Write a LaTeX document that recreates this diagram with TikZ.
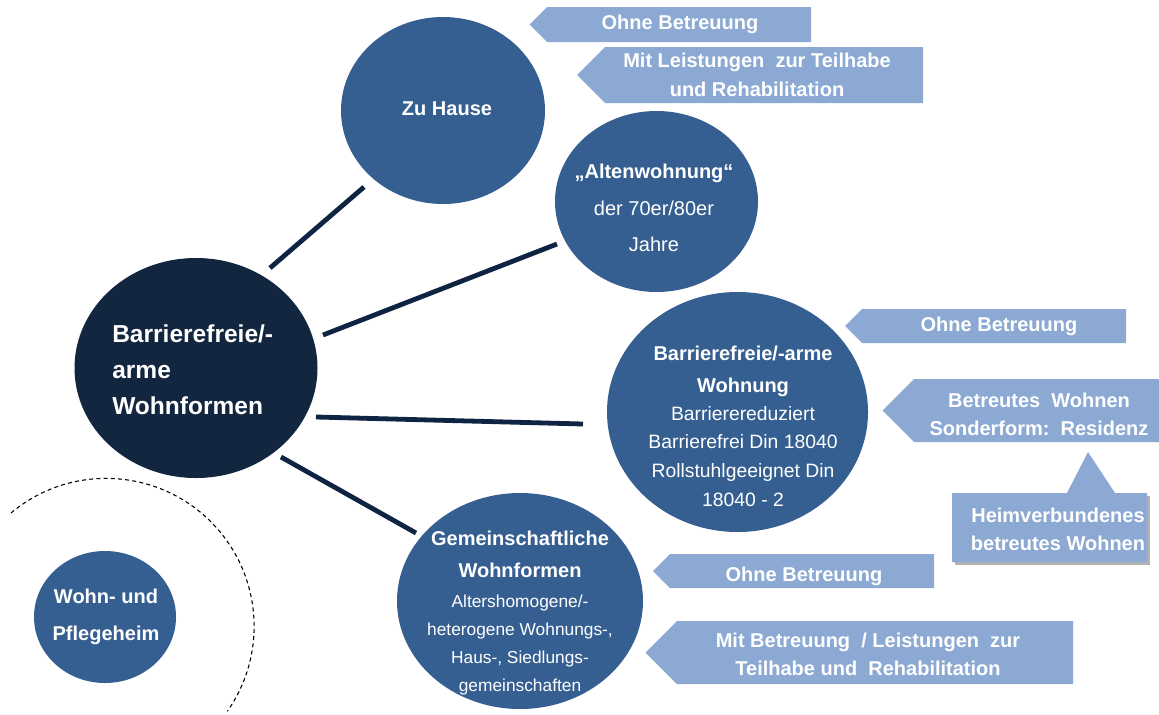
\documentclass[tikz,border=0pt]{standalone}
\usepackage{fontspec}
\setmainfont{Liberation Sans}
\usetikzlibrary{shapes.geometric}
\definecolor{navy}{HTML}{13263F}
\definecolor{midblue}{HTML}{365F91}
\definecolor{linecol}{HTML}{0F2342}
\definecolor{callcol}{HTML}{8BA9D2}
\begin{document}
\begin{tikzpicture}[x=0.75pt,y=-0.75pt,
  ell/.style={ellipse, inner sep=0pt, draw=none},
  conn/.style={draw=linecol, line width=3.6pt},
  arcline/.style={draw=black, line width=0.8pt, dash pattern=on 3pt off 2.4pt},
  callout/.style={fill=callcol},
  ctext/.style={text=white, font=\bfseries\fontsize{15}{21.5}\selectfont, align=center, inner sep=0pt},
  ntext/.style={text=white, align=center, inner sep=0pt}]
\fill[white] (0,0) rectangle (1159,714);
\useasboundingbox (0,0) rectangle (1159,714);

% dashed arc
\coordinate (arcstart) at (11,513);
\draw[arcline] (arcstart) arc[start angle=230, end angle=395, radius=148];

% circles
\node[ell, fill=navy, minimum width=243*0.75pt, minimum height=220*0.75pt] (main) at (196,368) {};
\node[ell, fill=midblue, minimum width=204*0.75pt, minimum height=187*0.75pt] (zu) at (443,110.5) {};
\node[ell, fill=midblue, minimum width=203*0.75pt, minimum height=181*0.75pt] (alt) at (656.5,201.5) {};
\node[ell, fill=midblue, minimum width=261*0.75pt, minimum height=240*0.75pt] (bfw) at (737.5,412) {};
\node[ell, fill=midblue, minimum width=246*0.75pt, minimum height=216*0.75pt] (gem) at (520,601) {};
\node[ell, fill=midblue, minimum width=142*0.75pt, minimum height=132*0.75pt] (wp) at (105,617) {};

% connectors
\coordinate (c1a) at (270,268); \coordinate (c1b) at (364,187);
\coordinate (c2a) at (323,335); \coordinate (c2b) at (557,244);
\coordinate (c3a) at (316,417); \coordinate (c3b) at (583,424);
\coordinate (c4a) at (281,457); \coordinate (c4b) at (416,533);
\draw[conn] (c1a) -- (c1b);
\draw[conn] (c2a) -- (c2b);
\draw[conn] (c3a) -- (c3b);
\draw[conn] (c4a) -- (c4b);

% circle texts
\node[ntext, align=left, anchor=west, font=\bfseries\fontsize{18.4}{27}\selectfont] (maintxt) at (112,370)
  {Barrierefreie/-\\arme\\Wohnformen};
\node[ntext, font=\bfseries\fontsize{15}{20}\selectfont] (zutxt) at (447,109) {Zu Hause};
\node[ntext, font=\fontsize{15}{27.5}\selectfont] (alttxt) at (654,208)
  {{\bfseries „Altenwohnung“}\\der 70er/80er\\Jahre};
\node[ntext, font=\fontsize{14.5}{21.5}\selectfont] (bfwtxt) at (743,426)
  {{\bfseries\fontsize{15}{21.5}\selectfont Barrierefreie/-arme}\\[3pt]
   {\bfseries\fontsize{15}{21.5}\selectfont Wohnung}\\[-1pt]
   Barrierereduziert\\Barrierefrei Din 18040\\Rollstuhlgeeignet Din\\18040 - 2};
\node[ntext, font=\fontsize{13}{21}\selectfont] (gemtxt) at (520,613)
  {{\bfseries\fontsize{15}{21}\selectfont Gemeinschaftliche}\\[3pt]
   {\bfseries\fontsize{15}{21}\selectfont Wohnformen}\\[2pt]
   Altershomogene/-\\heterogene Wohnungs-,\\Haus-, Siedlungs-\\gemeinschaften};
\node[ntext, font=\bfseries\fontsize{15}{27.5}\selectfont] (wptxt) at (106,617) {Wohn- und\\Pflegeheim};

% callouts (left pointing)
\fill[callout] (547,7) -- (811,7) -- (811,42) -- (547,42) -- (529.5,24.5) -- cycle;
\fill[callout] (605,47) -- (923,47) -- (923,103) -- (605,103) -- (577,75) -- cycle;
\fill[callout] (862,309) -- (1126,309) -- (1126,343) -- (862,343) -- (845,326) -- cycle;
\fill[callout] (914,379) -- (1159,379) -- (1159,442) -- (914,442) -- (882.5,410.5) -- cycle;
\fill[callout] (670,554) -- (934,554) -- (934,588) -- (670,588) -- (653,571) -- cycle;
\fill[callout] (677,621) -- (1073,621) -- (1073,684) -- (677,684) -- (645.5,652.5) -- cycle;
% upward callout with shadow
\fill[black, opacity=0.3] (955,496) rectangle (1150,565);
\fill[callout] (952,493) -- (1067,493) -- (1088,452) -- (1115,493) -- (1147,493) -- (1147,562) -- (952,562) -- cycle;

% callout texts
\node[ctext] (t1) at (680,24.5) {Ohne Betreuung};
\node[ctext] (t2) at (757,75) {Mit Leistungen\ \ zur Teilhabe\\und Rehabilitation};
\node[ctext] (t3) at (999,326.5) {Ohne Betreuung};
\node[ctext, font=\bfseries\fontsize{15}{21}\selectfont] (t4) at (1039,414) {Betreutes\ \ Wohnen\\Sonderform:\ \ Residenz};
\node[ctext, font=\bfseries\fontsize{15}{20.5}\selectfont] (t5) at (1058,529.5) {Heimverbundenes\\betreutes Wohnen};
\node[ctext] (t6) at (804,576) {Ohne Betreuung};
\node[ctext] (t7) at (868,654.5) {Mit Betreuung\ \ / Leistungen\ \ zur\\Teilhabe und\ \ Rehabilitation};
\end{tikzpicture}
\end{document}
